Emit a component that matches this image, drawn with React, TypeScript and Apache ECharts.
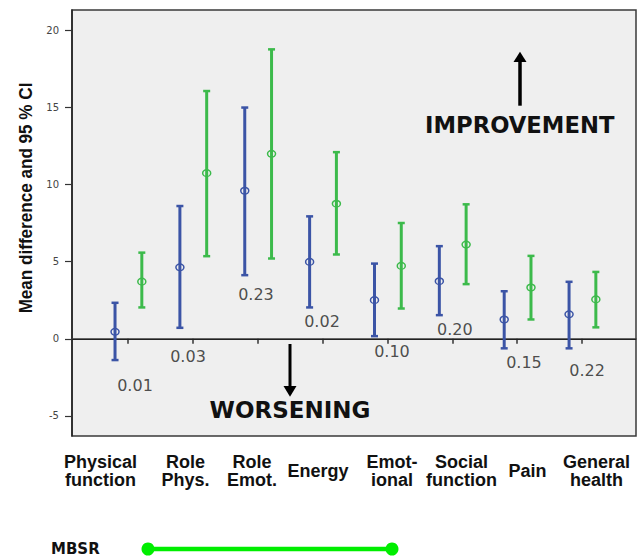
import React, { useEffect, useRef } from "react";
import * as echarts from "echarts";

// Categories (x axis)
const categories = [
  "Physical\nfunction",
  "Role\nPhys.",
  "Role\nEmot.",
  "Energy",
  "Emot-\nional",
  "Social\nfunction",
  "Pain",
  "General\nhealth",
];

// Blue group: mean difference and 95% CI
const blueMean = [0.45, 4.63, 9.59, 4.98, 2.5, 3.73, 1.25, 1.58];
const blueLow = [-1.38, 0.71, 4.12, 2.03, 0.17, 1.53, -0.62, -0.62];
const blueHigh = [2.33, 8.6, 14.98, 7.93, 4.87, 6.0, 3.08, 3.69];

// Green group (MBSR): mean difference and 95% CI
const greenMean = [3.7, 10.73, 11.98, 8.75, 4.72, 6.1, 3.32, 2.55];
const greenLow = [2.03, 5.35, 5.2, 5.46, 1.96, 3.54, 1.25, 0.74];
const greenHigh = [5.58, 16.05, 18.75, 12.09, 7.5, 8.71, 5.37, 4.33];

// p-values printed near each category
const pValues = ["0.01", "0.03", "0.23", "0.02", "0.10", "0.20", "0.15", "0.22"];

// Y tick labels
const yTicks = [-5, 0, 5, 10, 15, 20];

const legendName = "MBSR";

// ---- layout (not data) ----
const blueOffset = -0.2;
const greenOffset = 0.213;
const labelPos = [0.576, 1.887, 2.912, 3.929, 5.07, 6.142, 7.16, 8.223];
const pLabelPos = [
  [1.108, -3.0],
  [1.925, -1.12],
  [2.973, 2.88],
  [3.991, 1.15],
  [5.07, -0.84],
  [6.039, 0.63],
  [7.105, -1.55],
  [8.077, -2.07],
];

const BLUE = "#3b54a6";
const GREEN = "#3cba4b";

function errorBarItem(params: any, api: any) {
  const x = api.value(0);
  const mean = api.value(1);
  const lo = api.value(2);
  const hi = api.value(3);
  const pLo = api.coord([x, lo]);
  const pHi = api.coord([x, hi]);
  const pM = api.coord([x, mean]);
  const c = api.visual("color");
  const half = 3.5;
  return {
    type: "group",
    children: [
      {
        type: "line",
        shape: { x1: pLo[0], y1: pLo[1], x2: pHi[0], y2: pHi[1] },
        style: { stroke: c, lineWidth: 3 },
      },
      {
        type: "line",
        shape: { x1: pLo[0] - half, y1: pLo[1], x2: pLo[0] + half, y2: pLo[1] },
        style: { stroke: c, lineWidth: 2.5 },
      },
      {
        type: "line",
        shape: { x1: pHi[0] - half, y1: pHi[1], x2: pHi[0] + half, y2: pHi[1] },
        style: { stroke: c, lineWidth: 2.5 },
      },
      {
        type: "ellipse",
        shape: { cx: pM[0], cy: pM[1], rx: 4, ry: 3.3 },
        style: { fill: "none", stroke: c, lineWidth: 1.5 },
      },
    ],
  };
}

export default function App() {
  const ref = useRef<HTMLDivElement>(null);
  useEffect(() => {
    if (!ref.current) return;
    const chart = echarts.init(ref.current, undefined, { renderer: "svg" });
    const blueData = categories.map((_, i) => [i + 1 + blueOffset, blueMean[i], blueLow[i], blueHigh[i]]);
    const greenData = categories.map((_, i) => [i + 1 + greenOffset, greenMean[i], greenLow[i], greenHigh[i]]);
    const option: any = {
      animation: false,
      backgroundColor: "#ffffff",
      grid: {
        left: 72,
        top: 10,
        right: 2,
        bottom: 120,
        show: true,
        backgroundColor: "#efefef",
        borderColor: "#3a3a3a",
        borderWidth: 1.5,
      },
      xAxis: {
        type: "value",
        min: 0.1366,
        max: 8.832,
        splitLine: { show: false },
        axisLine: { show: true, lineStyle: { color: "#3a3a3a", width: 1.5 } },
        axisTick: {
          show: true,
          length: 5,
          customValues: categories.map((_, i) => i + 1),
          lineStyle: { color: "#333", width: 1.5 },
        },
        axisLabel: {
          customValues: labelPos,
          formatter: (v: number) => {
            let best = 0;
            for (let i = 1; i < labelPos.length; i++) {
              if (Math.abs(labelPos[i] - v) < Math.abs(labelPos[best] - v)) best = i;
            }
            return categories[best];
          },
          fontFamily: "Liberation Sans, Arial, sans-serif",
          fontWeight: "bold",
          fontSize: 18,
          lineHeight: 18.5,
          color: "#111",
          verticalAlign: "middle",
          margin: 35,
        },
      },
      yAxis: {
        type: "value",
        min: -6.3,
        max: 21.3,
        splitLine: { show: false },
        axisLine: { show: true, lineStyle: { color: "#222", width: 1.5 } },
        axisTick: {
          show: true,
          length: 7,
          customValues: yTicks,
          lineStyle: { color: "#333", width: 1.2 },
        },
        axisLabel: {
          customValues: yTicks,
          fontFamily: "DejaVu Sans, sans-serif",
          fontSize: 10,
          color: "#444",
          margin: 13,
        },
      },
      series: [
        {
          type: "custom",
          name: "Blue",
          renderItem: errorBarItem,
          itemStyle: { color: BLUE },
          encode: { x: 0, y: [1, 2, 3] },
          data: blueData,
          z: 3,
          markLine: {
            silent: true,
            symbol: ["none", "none"],
            label: { show: false },
            lineStyle: { color: "#222", width: 1, type: "solid" },
            data: [{ yAxis: 0 }],
            z: 1,
          },
        },
        {
          type: "custom",
          name: legendName,
          renderItem: errorBarItem,
          itemStyle: { color: GREEN },
          encode: { x: 0, y: [1, 2, 3] },
          data: greenData,
          z: 3,
        },
        {
          type: "scatter",
          symbolSize: 0,
          data: pLabelPos,
          label: {
            show: true,
            position: "inside",
            formatter: (p: any) => pValues[p.dataIndex],
            fontFamily: "DejaVu Sans, sans-serif",
            fontSize: 16,
            color: "#222",
          },
          z: 4,
        },
      ],
      graphic: [
        {
          type: "text",
          x: 26,
          y: 198,
          rotation: Math.PI / 2,
          scaleX: 0.9,
          style: {
            text: "Mean difference and 95 % CI",
            fontFamily: "Liberation Sans, Arial, sans-serif",
            fontWeight: "bold",
            fontSize: 19,
            fill: "#111",
            align: "center",
            verticalAlign: "middle",
          },
        },
        {
          type: "line",
          shape: { x1: 520, y1: 105.7, x2: 520, y2: 61 },
          style: { stroke: "#000", lineWidth: 3.5 },
        },
        {
          type: "polygon",
          shape: { points: [[513.5, 62], [526.5, 62], [520, 51.7]] },
          style: { fill: "#000" },
        },
        {
          type: "text",
          x: 519.7,
          y: 125,
          style: {
            text: "IMPROVEMENT",
            fontFamily: "DejaVu Sans, sans-serif",
            fontWeight: "bold",
            fontSize: 22.7,
            fill: "#111",
            align: "center",
            verticalAlign: "middle",
          },
        },
        {
          type: "line",
          shape: { x1: 290, y1: 344, x2: 290, y2: 387 },
          style: { stroke: "#000", lineWidth: 3 },
        },
        {
          type: "polygon",
          shape: { points: [[283.5, 386], [296.5, 386], [290, 396.7]] },
          style: { fill: "#000" },
        },
        {
          type: "text",
          x: 290,
          y: 410,
          style: {
            text: "WORSENING",
            fontFamily: "DejaVu Sans, sans-serif",
            fontWeight: "bold",
            fontSize: 23,
            fill: "#111",
            align: "center",
            verticalAlign: "middle",
          },
        },
        {
          type: "text",
          x: 51,
          y: 548.5,
          style: {
            text: legendName,
            fontFamily: "DejaVu Sans, sans-serif",
            fontWeight: "bold",
            fontSize: 15,
            fill: "#111",
            align: "left",
            verticalAlign: "middle",
          },
        },
        {
          type: "line",
          shape: { x1: 148, y1: 549, x2: 392, y2: 549 },
          style: { stroke: "#00ee00", lineWidth: 4.5 },
        },
        {
          type: "circle",
          shape: { cx: 148, cy: 549, r: 6.5 },
          style: { fill: "#00ee00" },
        },
        {
          type: "circle",
          shape: { cx: 392, cy: 549, r: 6.5 },
          style: { fill: "#00ee00" },
        },
      ],
    };
    chart.setOption(option);
    return () => chart.dispose();
  }, []);
  return (
    <div
      ref={ref}
      style={{ position: "fixed", left: 0, top: 0, width: 638, height: 556, background: "#fff" }}
    />
  );
}
